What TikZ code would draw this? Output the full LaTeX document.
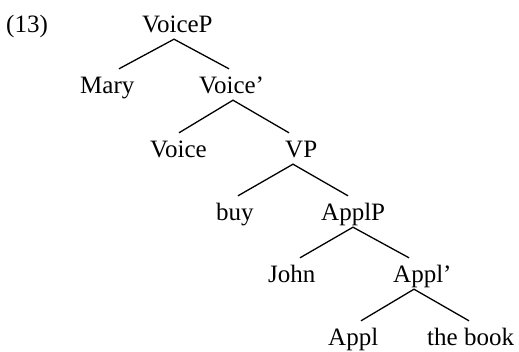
\documentclass[tikz,border=0pt]{standalone}
\usepackage{fontspec}
\setmainfont{Liberation Serif}
\begin{document}
\begin{tikzpicture}[x=1pt,y=-1pt,
  lbl/.style={inner xsep=0pt,inner ysep=7pt,text height=17pt,text depth=0pt,
              anchor=base west,font=\fontsize{25}{30}\selectfont},
  branch/.style={line width=1.3pt}]
\useasboundingbox (0,0) rectangle (519,351);

% example number
\node[lbl] (num) at (6,32) {(13)};

% tree labels, one row per level
\node[lbl] (VoiceP) at (142,32) {VoiceP};
\node[lbl] (Mary)   at (80,93)  {Mary};
\node[lbl] (Voicebar) at (199,93) {Voice’};
\node[lbl] (Voice)  at (150,157) {Voice};
\node[lbl] (VP)     at (285,157) {VP};
\node[lbl] (buy)    at (216,220) {buy};
\node[lbl] (ApplP)  at (321,220) {ApplP};
\node[lbl] (John)   at (268,282) {John};
\node[lbl] (Applbar) at (393,282) {Appl’};
\node[lbl] (Appl)   at (328,345) {Appl};
\node[lbl] (book)   at (427,345) {the book};

% branches: left daughter -- mother -- right daughter
\draw[branch] (119,0 |- Mary.north) -- (174,0 |- VoiceP.south) -- (229,0 |- Voicebar.north);
\draw[branch] (179,0 |- Voice.north) -- (233,0 |- Voicebar.south) -- (289,0 |- VP.north);
\draw[branch] (238,0 |- buy.north) -- (293,0 |- VP.south) -- (348,0 |- ApplP.north);
\draw[branch] (300,0 |- John.north) -- (353,0 |- ApplP.south) -- (409,0 |- Applbar.north);
\draw[branch] (361,0 |- Appl.north) -- (414,0 |- Applbar.south) -- (469,0 |- book.north);
\end{tikzpicture}
\end{document}
